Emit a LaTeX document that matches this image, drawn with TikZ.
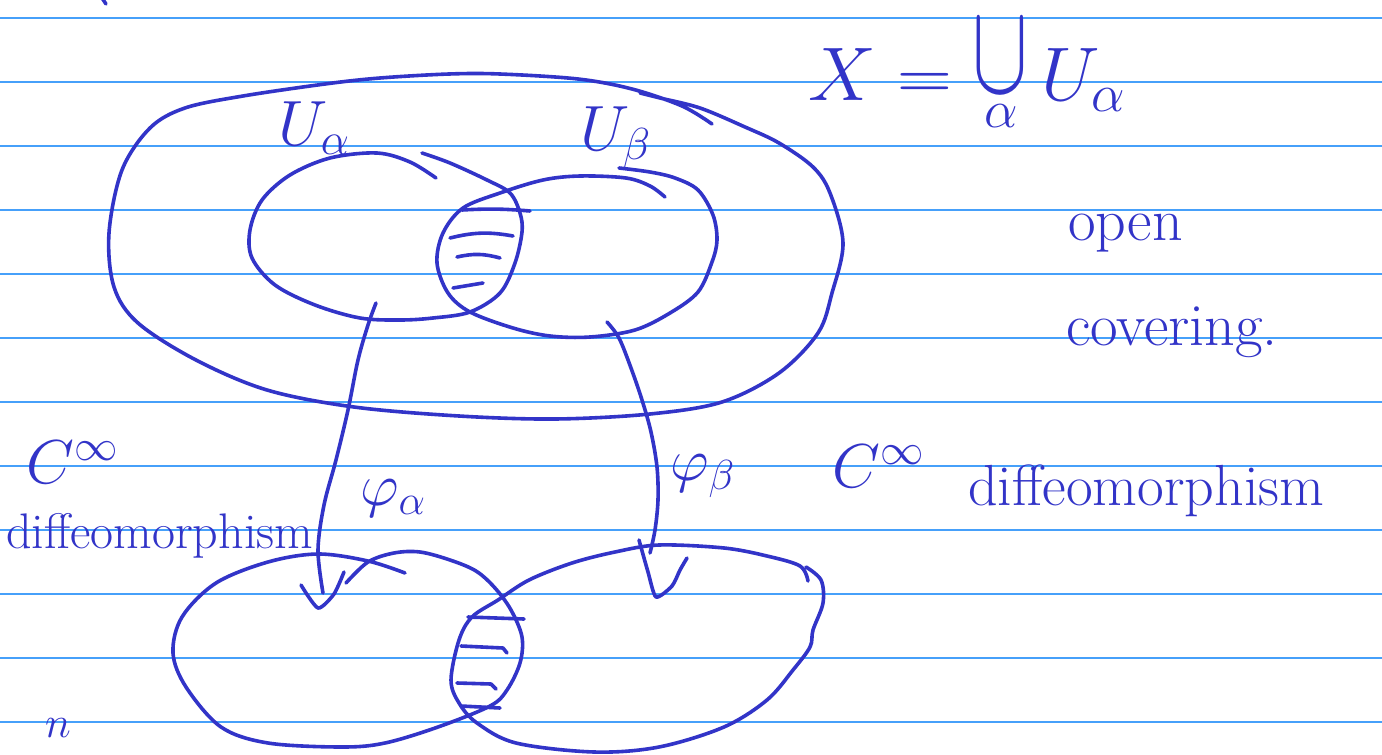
\RequirePackage{fix-cm}
\documentclass[tikz,border=0pt]{standalone}
\usepackage{amsmath}
\usepackage{graphicx}
\definecolor{ink}{RGB}{50,52,200}
\definecolor{ruleblue}{RGB}{70,160,250}
\begin{document}
\begin{tikzpicture}[x=1pt,y=-1pt,
  stroke/.style={draw=ink,line width=3.6pt,line cap=round,line join=round},
  sm/.style={smooth,tension=0.55},
  lbl/.style={text=ink,inner sep=0pt,anchor=base west}]
\fill[white] (0,0) rectangle (1382,755);
\useasboundingbox (0,0) rectangle (1382,755);
% ruled paper
\foreach \k in {0,...,11} \draw[ruleblue,line width=1.6pt] (0,18+64*\k) -- (1382,18+64*\k);
% stray mark at top
\draw[stroke] (102,-2) -- (106,4);
% X (outer region)
\draw[stroke] plot[sm] coordinates {(712,124) (682,106) (632,89) (578,79) (500,74) (449,74) (380,78) (325,84) (243,96) (185,108) (150,128) (122,170) (109,233) (114,287) (138,323) (196,360) (267,390) (354,407) (459,416) (555,419) (650,414) (722,402) (779,373) (818,333) (832,293) (843,243) (830,193) (813,167) (779,143) (745,127) (700,108) (660,98) (640,93)};
% U_alpha
\draw[stroke] plot[sm] coordinates {(422,153) (450,163) (487,180) (510,193) (520,213) (522,232) (515,263) (500,293) (470,312) (433,318) (400,320) (360,318) (315,305) (275,285) (252,258) (250,230) (262,200) (290,175) (330,158) (377,153) (410,162) (436,178)};
% U_beta
\draw[stroke] plot[sm] coordinates {(619,168) (650,172) (675,178) (698,190) (713,215) (717,240) (712,262) (698,292) (670,313) (635,330) (590,337) (550,336) (513,328) (470,312) (448,293) (437,263) (443,233) (463,208) (500,193) (543,180) (580,176) (626,178) (650,186) (665,197)};
% hatching top
\draw[stroke] (462,210) to[bend left=4] (530,211);
\draw[stroke] (450,238) to[bend left=12] (513,236);
\draw[stroke] (457,257) to[bend left=14] (500,258);
\draw[stroke] (453,288) -- (483,283);
% bottom left region
\draw[stroke] plot[sm] coordinates {(405,573) (368,561) (318,554) (268,562) (216,583) (182,617) (173,653) (186,687) (221,727) (268,743) (342,747) (385,743) (438,727) (490,706) (507,690) (520,663) (522,637) (511,610) (495,588) (476,571) (450,560) (420,552) (394,553) (368,562) (346,583)};
% bottom right region
\draw[stroke] plot[sm] coordinates {(808,581) (800,566) (767,556) (724,548) (659,545) (615,552) (572,563) (529,580) (498,600) (472,617) (459,640) (451,680) (459,703) (477,723) (516,743) (594,752) (659,747) (724,727) (767,700) (793,670) (810,647) (813,630) (823,603) (821,580) (806,567)};
% hatching bottom
\draw[stroke] (468,617) -- (524,619);
\draw[stroke] (461,646) -- (503,648) -- (507,653);
\draw[stroke] (457,683) -- (491,684) -- (496,689);
\draw[stroke] (461,706) -- (500,708);
% arrows (phi_alpha, phi_beta)
\coordinate (aS) at (376,303);
\coordinate (aE) at (323,593);
\coordinate (bS) at (607,322);
\coordinate (bE) at (650,553);
\draw[stroke] plot[sm] coordinates {(aS) (368,325) (358,360) (348,410) (336,460) (324,505) (318,550) (aE)};
\draw[stroke] plot[smooth,tension=0.4] coordinates {(301,585) (318,608) (334,594) (344,572)};
\draw[stroke] plot[sm] coordinates {(bS) (619,338) (631,368) (642,400) (651,432) (657,467) (658,500) (655,530) (bE)};
\draw[stroke] plot[smooth,tension=0.4] coordinates {(639,540) (648,572) (656,597) (672,586) (680,570) (687,558)};
% labels
\node[lbl,font=\fontsize{64}{64}\selectfont] (Ua) at (278,145) {$U_{\alpha}$};
\node[lbl,font=\fontsize{64}{64}\selectfont] (Ub) at (580,150) {$U_{\beta}$};
\node[lbl,font=\fontsize{76}{76}\selectfont] (eq) at (808,100) {$\displaystyle X=\mathop{\raisebox{8pt}{\scalebox{1.1}[1.7]{$\cup$}}}\limits_{\alpha}U_{\alpha}$};
\node[lbl,font=\fontsize{60}{60}\selectfont] (open) at (1068,240) {open};
\node[lbl,font=\fontsize{60}{60}\selectfont] (cov) at (1066,345) {covering.};
\node[lbl,font=\fontsize{62}{62}\selectfont] (cl) at (26,483) {$C^{\infty}$};
\node[lbl,font=\fontsize{50}{50}\selectfont] (dl) at (6,548) {diffeomorphism};
\node[lbl,font=\fontsize{60}{60}\selectfont] (pa) at (360,505) {$\varphi_{\alpha}$};
\node[lbl,font=\fontsize{60}{60}\selectfont] (pb) at (670,480) {$\varphi_{\beta}$};
\node[lbl,font=\fontsize{62}{62}\selectfont] (cr) at (832,487) {$C^{\infty}$};
\node[lbl,font=\fontsize{58}{58}\selectfont] (dr) at (968,505) {diffeomorphism};
\node[lbl,font=\fontsize{44}{44}\selectfont] (n) at (45,737) {$n$};
\end{tikzpicture}
\end{document}
